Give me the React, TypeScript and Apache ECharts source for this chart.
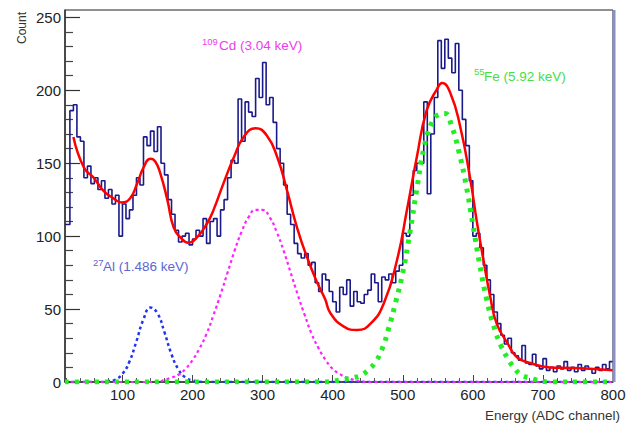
import React, { useEffect, useRef } from 'react';
import * as echarts from 'echarts';

const X_MIN = 18;
const X_MAX = 800;
const Y_MAX = 255;
const HIST_FIRST_EDGE = 20;
const HIST_BIN_WIDTH = 5;

// measured spectrum, bins of 5 ADC channels starting at channel 20
const histCounts = [
  108, 186, 190, 168, 165, 140, 148, 136, 140, 132, 138, 126, 132, 122, 128, 100,
  122, 112, 118, 128, 140, 135, 168, 162, 172, 158, 175, 150, 142, 125, 115, 104,
  96, 100, 102, 94, 98, 104, 100, 112, 95, 110,
  112, 100, 118, 125, 140, 152, 150, 194, 165, 192, 185, 182, 208, 195, 219, 190,
  195, 178, 160, 150, 135, 115, 108, 95, 88, 85, 88, 80, 82, 68, 62, 74, 70, 62,
  55, 48, 65, 60, 70, 52, 62, 55, 54, 60, 63, 74, 68, 55, 72, 70, 74, 68, 76, 80,
  102, 100, 128, 145, 150, 150, 192, 129, 170, 195, 234, 215, 235, 222, 212, 232,
  200, 180, 162, 138,
  100, 102, 92, 80, 70, 60, 48, 40, 32, 26, 30, 20, 18, 15, 25, 13, 12, 19, 11, 9,
  16, 8, 10, 7, 11, 9, 14, 8, 10, 7, 12, 8, 11, 9, 6, 10, 8, 12, 9, 14,
];

// total fit (red)
const fitCurve = [
  [30, 168], [45, 147], [59, 140], [73, 131], [87, 126], [99, 123], [111, 126],
  [121, 136], [130, 147], [140, 153], [147, 151], [154, 143], [164, 125],
  [173, 106], [183, 99], [194, 95.5], [206, 99], [221, 109], [230, 118],
  [244, 136], [259, 154], [273, 168], [290, 174], [306, 169], [321, 154],
  [335, 131], [349, 106], [363, 86], [378, 68], [389, 57], [397, 47], [416, 38],
  [435, 35.6], [454, 40], [473, 54], [492, 84], [506, 118], [520, 154],
  [534, 186], [549, 201], [556, 205], [568, 198], [582, 175], [596, 140],
  [606, 109], [615, 84], [625, 58], [634, 40], [649, 27], [663, 17], [682, 13],
  [710, 10], [739, 9.6], [767, 9], [800, 8],
];

// 27Al component (blue)
const alPeak = [
  [18, 0], [70, 0], [80, 0.5], [90, 1.7], [100, 5.5], [110, 14], [120, 28],
  [130, 43], [140, 51], [150, 47], [160, 34], [170, 19], [180, 8.5], [190, 3],
  [200, 1], [210, 0.2], [220, 0], [800, 0],
];

// 109Cd component (magenta)
const cdPeak = [
  [18, 0], [150, 0], [160, 1.5], [170, 3], [180, 5], [190, 9], [200, 15],
  [210, 23], [220, 33], [230, 46], [240, 60], [250, 75], [260, 90], [270, 103],
  [280, 113], [290, 118], [300, 118], [310, 113], [320, 103], [330, 90],
  [340, 75], [350, 60], [360, 46], [370, 33], [380, 23], [390, 15], [400, 9],
  [410, 5.5], [420, 3], [430, 1.5], [440, 0.5], [450, 0], [800, 0],
];

// 55Fe component (green)
const fePeak = [
  [18, 0], [390, 0], [400, 0.5], [410, 1.3], [420, 2], [430, 3], [440, 4.5],
  [450, 8], [460, 13], [470, 22], [480, 37], [490, 55], [500, 75], [510, 102],
  [520, 132], [530, 160], [540, 176], [550, 183], [560, 184], [570, 175],
  [580, 158], [590, 136], [600, 108], [610, 80], [620, 56], [630, 38], [640, 25],
  [650, 16], [660, 9], [670, 4.5], [680, 3], [690, 1.5], [700, 0.5], [710, 0],
  [800, 0],
];

const xTickLabels = [100, 200, 300, 400, 500, 600, 700, 800];
const xMinorTicks = [
  20, 40, 60, 80, 120, 140, 160, 180, 220, 240, 260, 280, 320, 340, 360, 380,
  420, 440, 460, 480, 520, 540, 560, 580, 620, 640, 660, 680, 720, 740, 760, 780,
];
const yTickLabels = [0, 50, 100, 150, 200, 250];
const yMinorTicks = [
  10, 20, 30, 40, 60, 70, 80, 90, 110, 120, 130, 140, 160, 170, 180, 190,
  210, 220, 230, 240,
];

const FONT = 'Liberation Sans, Arial, Helvetica, sans-serif';

export default function App() {
  const ref = useRef<HTMLDivElement>(null);

  useEffect(() => {
    if (!ref.current) return;
    const chart = echarts.init(ref.current, null, { renderer: 'svg' });

    const histData = histCounts.map((v, i) => [
      i === 0 ? X_MIN : HIST_FIRST_EDGE + i * HIST_BIN_WIDTH,
      v,
    ]);
    histData.push([X_MAX, histCounts[histCounts.length - 1]]);

    const gridRect = { left: 65, right: 20, top: 10, bottom: 43 };
    const axisLineStyle = { color: '#333', width: 1.5 };
    const textAlignLeft = { align: 'left', verticalAlign: 'middle', textAlign: 'left', textVerticalAlign: 'middle' };

    const option: any = {
      animation: false,
      backgroundColor: '#ffffff',
      grid: [
        { ...gridRect, show: true, borderColor: '#222', borderWidth: 1, backgroundColor: 'transparent' },
        { ...gridRect, show: false },
      ],
      xAxis: [
        {
          type: 'value',
          gridIndex: 0,
          min: X_MIN,
          max: X_MAX,
          axisLine: { show: true, onZero: false, lineStyle: axisLineStyle },
          axisTick: { show: true, inside: true, length: 7, customValues: xTickLabels, lineStyle: { color: '#444', width: 1 } },
          axisLabel: { customValues: xTickLabels, fontSize: 15, color: '#222', fontFamily: FONT, margin: 5 },
          splitLine: { show: false },
        },
        {
          type: 'value',
          gridIndex: 1,
          min: X_MIN,
          max: X_MAX,
          axisLine: { show: false },
          axisTick: { show: true, inside: true, length: 4, customValues: xMinorTicks, lineStyle: { color: '#555', width: 1 } },
          axisLabel: { show: false },
          splitLine: { show: false },
        },
      ],
      yAxis: [
        {
          type: 'value',
          gridIndex: 0,
          min: 0,
          max: Y_MAX,
          axisLine: { show: true, onZero: false, lineStyle: axisLineStyle },
          axisTick: { show: true, inside: true, length: 15, customValues: yTickLabels, lineStyle: { color: '#333', width: 1.2 } },
          axisLabel: { customValues: yTickLabels, fontSize: 15, color: '#222', fontFamily: FONT, margin: 4 },
          splitLine: { show: false },
        },
        {
          type: 'value',
          gridIndex: 1,
          min: 0,
          max: Y_MAX,
          axisLine: { show: false },
          axisTick: { show: true, inside: true, length: 8, customValues: yMinorTicks, lineStyle: { color: '#444', width: 1.2 } },
          axisLabel: { show: false },
          splitLine: { show: false },
        },
      ],
      series: [
        {
          name: 'data',
          type: 'line',
          xAxisIndex: 0,
          yAxisIndex: 0,
          step: 'end',
          data: histData,
          symbol: 'none',
          lineStyle: { color: '#1a1a8a', width: 1.6 },
          z: 2,
        },
        {
          name: 'Al',
          type: 'line',
          xAxisIndex: 0,
          yAxisIndex: 0,
          smooth: true,
          data: alPeak,
          symbol: 'none',
          lineStyle: { color: '#1f36f0', width: 2.5, type: [3, 3] },
          z: 3,
        },
        {
          name: 'Cd',
          type: 'line',
          xAxisIndex: 0,
          yAxisIndex: 0,
          smooth: true,
          data: cdPeak,
          symbol: 'none',
          lineStyle: { color: '#ff22ff', width: 2.2, type: [3, 3] },
          z: 3,
        },
        {
          name: 'Fe',
          type: 'line',
          xAxisIndex: 0,
          yAxisIndex: 0,
          smooth: true,
          data: fePeak,
          symbol: 'none',
          lineStyle: { color: '#22ee22', width: 5, type: [4, 6] },
          z: 4,
        },
        {
          name: 'fit',
          type: 'line',
          xAxisIndex: 0,
          yAxisIndex: 0,
          smooth: true,
          data: fitCurve,
          symbol: 'none',
          lineStyle: { color: '#ff0000', width: 2.5 },
          z: 5,
        },
      ],
      graphic: [
        {
          type: 'line',
          shape: { x1: 614, y1: 10, x2: 614, y2: 382 },
          style: { stroke: '#8a8fc4', lineWidth: 3 },
          z: 10,
        },
        {
          type: 'text',
          x: 22,
          y: 28,
          rotation: Math.PI / 2,
          style: { text: 'Count', fill: '#333', fontSize: 12, fontFamily: FONT, align: 'center', verticalAlign: 'middle', textAlign: 'center', textVerticalAlign: 'middle' },
        },
        {
          type: 'text',
          x: 620,
          y: 415,
          style: { text: 'Energy (ADC channel)', fill: '#333', fontSize: 13.5, fontFamily: FONT, align: 'right', verticalAlign: 'middle', textAlign: 'right', textVerticalAlign: 'middle' },
        },
        {
          type: 'text',
          x: 202,
          y: 41,
          style: { text: '109', fill: '#ee3cee', fontSize: 9.5, fontFamily: FONT, ...textAlignLeft },
        },
        {
          type: 'text',
          x: 219,
          y: 45,
          style: { text: 'Cd (3.04 keV)', fill: '#ee3cee', fontSize: 13.5, fontFamily: FONT, ...textAlignLeft },
        },
        {
          type: 'text',
          x: 474,
          y: 71,
          style: { text: '55', fill: '#44e044', fontSize: 9.5, fontFamily: FONT, ...textAlignLeft },
        },
        {
          type: 'text',
          x: 484,
          y: 76,
          style: { text: 'Fe (5.92 keV)', fill: '#44e044', fontSize: 13.5, fontFamily: FONT, ...textAlignLeft },
        },
        {
          type: 'text',
          x: 93,
          y: 262,
          style: { text: '27', fill: '#5a68d0', fontSize: 9.5, fontFamily: FONT, ...textAlignLeft },
        },
        {
          type: 'text',
          x: 103,
          y: 266,
          style: { text: 'Al (1.486 keV)', fill: '#5a68d0', fontSize: 13.5, fontFamily: FONT, ...textAlignLeft },
        },
      ],
    };

    chart.setOption(option);
    return () => chart.dispose();
  }, []);

  return (
    <div
      ref={ref}
      style={{ position: 'fixed', left: 0, top: 0, width: 633, height: 425, background: '#fff' }}
    />
  );
}
